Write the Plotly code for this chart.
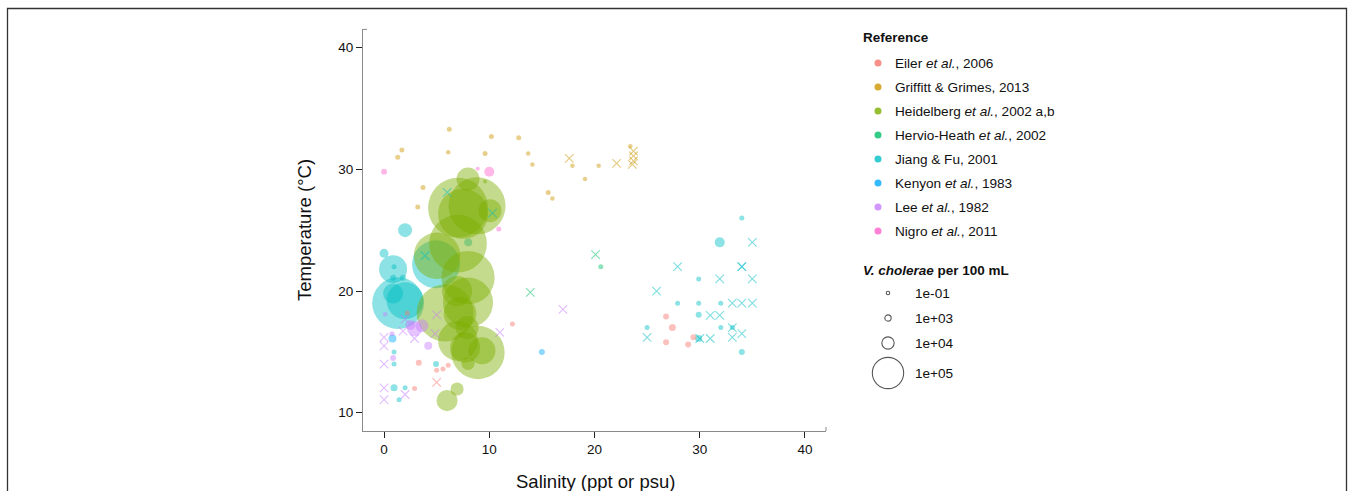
import numpy as np
import plotly.graph_objects as go

# ---------------- data (salinity, temperature, V. cholerae per 100 mL) ----------------
references = ["Eiler <i>et al.</i>, 2006", "Griffitt &amp; Grimes, 2013",
              "Heidelberg <i>et al.</i>, 2002 a,b", "Hervio-Heath <i>et al.</i>, 2002",
              "Jiang &amp; Fu, 2001", "Kenyon <i>et al.</i>, 1983",
              "Lee <i>et al.</i>, 1982", "Nigro <i>et al.</i>, 2011"]
colors = ["#F8766D", "#CD9600", "#7CAE00", "#00BE67", "#00BFC4", "#00A9FF", "#C77CFF", "#FF61CC"]

eiler_sal = [26.8, 27.4, 26.8, 28.9, 29.4, 12.2, 2.2, 3.3, 5.0, 5.6, 6.1, 2.9]
eiler_temp = [17.9, 17.0, 15.8, 15.6, 16.2, 17.3, 18.2, 14.1, 13.5, 13.6, 13.9, 12.0]
eiler_conc = [800, 1600, 800, 800, 800, 300, 300, 800, 300, 300, 300, 300]
eiler_nd_sal = [5.0]
eiler_nd_temp = [12.5]

griffitt_sal = [1.7, 1.3, 6.2, 10.2, 12.8, 6.1, 9.6, 13.7, 14.1, 3.7, 3.2, 17.9, 20.4, 19.1, 15.6, 16.0, 23.4]
griffitt_temp = [31.6, 31.0, 33.3, 32.7, 32.6, 31.4, 31.3, 31.3, 30.4, 28.5, 26.9, 30.3, 30.3, 29.2, 28.1, 27.6, 31.9]
griffitt_conc = [290, 290, 290, 290, 290, 130, 290, 130, 130, 290, 290, 130, 130, 130, 290, 130, 130]
griffitt_nd_sal = [17.6, 22.1, 23.7, 23.7, 23.7, 23.6]
griffitt_nd_temp = [30.9, 30.5, 31.5, 31.1, 30.7, 30.4]

heidelberg_sal = [7.98, 7.03, 8.84, 10.07, 7.51, 7.03, 5.04, 7.98, 6.94, 5.80, 7.98,
                  7.22, 7.03, 8.93, 7.89, 9.31, 7.70, 7.98, 5.99, 6.94, 9.6]
heidelberg_temp = [29.2, 26.85, 27.0, 26.6, 26.35, 23.9, 22.9, 21.1, 20.0, 18.2, 19.05,
                   18.15, 15.9, 14.95, 17.0, 15.1, 15.35, 14.05, 11.0, 11.95, 29.0]
heidelberg_conc = [4.9e4, 4.1e5, 3.7e5, 4.9e4, 2.8e5, 3.8e5, 2.4e5, 3.2e5, 9.1e4, 3.7e5, 2.8e5,
                   1.1e5, 1.7e5, 3.2e5, 4.9e4, 7.1e4, 9.1e4, 1.2e4, 4.0e4, 1.2e4, 30]
heidelberg_nd_sal = []
heidelberg_nd_temp = []

hervio_sal = [20.6]
hervio_temp = [22.0]
hervio_conc = [290]
hervio_nd_sal = [20.1, 13.9]
hervio_nd_temp = [23.0, 19.9]

jiang_sal = [0.86, 1.33, 2.0, 0.86, 4.94, 2.0, 0.0, 0.95, 0.86, 1.8, 0.95, 0.95, 0.95, 2.0, 1.43, 4.94, 8.0,
             34.0, 31.9, 29.9, 27.9, 29.9, 32.0, 29.9, 25.0, 32.0, 33.1, 29.9, 34.0]
jiang_temp = [21.8, 19.0, 19.2, 19.8, 22.2, 25.0, 23.1, 22.0, 21.1, 21.1, 15.0, 14.0, 12.05, 12.05, 11.07, 14.0, 24.0,
              26.0, 24.0, 21.0, 19.0, 19.0, 19.0, 18.05, 17.0, 17.0, 17.0, 16.1, 15.0]
jiang_conc = [7.75e4, 3.0e5, 1.45e5, 3.5e4, 2.55e5, 1.4e4, 3900, 290, 810, 810, 290, 290, 1580, 290, 290, 810, 2600,
              290, 5460, 290, 290, 290, 290, 810, 290, 290, 290, 1580, 810]
jiang_nd_sal = [6.0, 10.3, 3.9, 35.0, 27.9, 34.0, 34.0, 31.9, 35.0, 25.9, 33.1, 34.0, 35.0, 31.0, 31.9,
                25.0, 30.0, 31.0, 33.1, 34.0, 33.1]
jiang_nd_temp = [28.1, 26.4, 22.9, 24.0, 22.0, 22.0, 22.0, 21.0, 21.0, 20.0, 19.0, 19.0, 19.0, 18.0, 18.0,
                 16.2, 16.1, 16.1, 16.2, 16.5, 17.0]

kenyon_sal = [15.0, 0.8]
kenyon_temp = [15.0, 16.1]
kenyon_conc = [810, 2600]
kenyon_nd_sal = []
kenyon_nd_temp = []

lee_sal = [2.9, 3.6, 4.2, 0.76, 0.86, 0.1, 2.5]
lee_temp = [16.9, 17.15, 15.5, 16.5, 14.5, 18.1, 17.2]
lee_conc = [17100, 11650, 2600, 290, 810, 130, 5460]
lee_nd_sal = [0, 0, 0, 0, 0, 2.0, 1.8, 2.9, 5.0, 4.85, 11.0, 2.0, 17.0]
lee_nd_temp = [16.2, 15.5, 14.0, 12.05, 11.07, 17.7, 16.7, 16.1, 18.05, 16.5, 16.6, 11.5, 18.5]

nigro_sal = [0.0, 8.9, 10.0, 10.9]
nigro_temp = [29.8, 30.05, 29.8, 25.1]
nigro_conc = [810, 32, 5460, 290]
nigro_nd_sal = []
nigro_nd_temp = []

size_breaks = [1e-1, 1e3, 1e4, 1e5]
size_labels = ["1e-01", "1e+03", "1e+04", "1e+05"]

x_ticks = [0, 10, 20, 30, 40]
y_ticks = [10, 20, 30, 40]

# ---------------- helpers ----------------
W, H = 1354, 491
FONT = "Liberation Sans, Arial, Helvetica, sans-serif"
ALPHA = 0.45


def size_px(c):
    return 3.5 + 0.088 * np.sqrt(np.asarray(c, dtype=float))


circle_sets = [
    (eiler_sal, eiler_temp, eiler_conc),
    (griffitt_sal, griffitt_temp, griffitt_conc),
    (heidelberg_sal, heidelberg_temp, heidelberg_conc),
    (hervio_sal, hervio_temp, hervio_conc),
    (jiang_sal, jiang_temp, jiang_conc),
    (kenyon_sal, kenyon_temp, kenyon_conc),
    (lee_sal, lee_temp, lee_conc),
    (nigro_sal, nigro_temp, nigro_conc),
]
cross_sets = [
    (eiler_nd_sal, eiler_nd_temp), (griffitt_nd_sal, griffitt_nd_temp),
    (heidelberg_nd_sal, heidelberg_nd_temp), (hervio_nd_sal, hervio_nd_temp),
    (jiang_nd_sal, jiang_nd_temp), (kenyon_nd_sal, kenyon_nd_temp),
    (lee_nd_sal, lee_nd_temp), (nigro_nd_sal, nigro_nd_temp),
]

fig = go.Figure()

draw_order = [4, 0, 1, 2, 3, 5, 6, 7]
for i in draw_order:
    s, t, c = circle_sets[i]
    fig.add_trace(go.Scatter(
        x=s, y=t, mode="markers", showlegend=False, hoverinfo="skip",
        marker=dict(symbol="circle", size=size_px(c), sizemode="diameter",
                    color=colors[i], opacity=ALPHA, line=dict(width=0)),
        xaxis="x", yaxis="y"))

for i in range(8):
    s, t = cross_sets[i]
    if len(s) == 0:
        continue
    fig.add_trace(go.Scatter(
        x=s, y=t, mode="markers", showlegend=False, hoverinfo="skip",
        marker=dict(symbol="x-thin", size=8.5, color=colors[i], opacity=0.5,
                    line=dict(width=1.1, color=colors[i])),
        xaxis="x", yaxis="y"))

# ---------------- manual legend (pixel overlay axes) ----------------
ref_y = [63 + 24 * k for k in range(8)]
fig.add_trace(go.Scatter(
    x=[878] * 8, y=ref_y, mode="markers", showlegend=False, hoverinfo="skip",
    marker=dict(size=7, color=colors, opacity=0.8, line=dict(width=0)),
    xaxis="x2", yaxis="y2"))
size_y = [293, 318, 343, 373]
fig.add_trace(go.Scatter(
    x=[888] * 4, y=size_y, mode="markers", showlegend=False, hoverinfo="skip",
    marker=dict(symbol="circle-open", size=size_px(size_breaks), color="#111",
                line=dict(width=1.1, color="#111")),
    xaxis="x2", yaxis="y2"))

annotations = []
annotations.append(dict(x=861, y=37, xref="x2", yref="y2", text="<b>Reference</b>",
                        showarrow=False, xanchor="left", yanchor="middle",
                        font=dict(size=13.5, color="#111", family=FONT)))
for k, name in enumerate(references):
    annotations.append(dict(x=893, y=ref_y[k], xref="x2", yref="y2", text=name,
                            showarrow=False, xanchor="left", yanchor="middle",
                            font=dict(size=13.6, color="#111", family=FONT)))
annotations.append(dict(x=861, y=270, xref="x2", yref="y2",
                        text="<b><i>V. cholerae</i> per 100 mL</b>",
                        showarrow=False, xanchor="left", yanchor="middle",
                        font=dict(size=13.5, color="#111", family=FONT)))
for k, lab in enumerate(size_labels):
    annotations.append(dict(x=913, y=size_y[k], xref="x2", yref="y2", text=lab,
                            showarrow=False, xanchor="left", yanchor="middle",
                            font=dict(size=13.6, color="#111", family=FONT)))

# axis titles
annotations.append(dict(x=595 / W, y=1 - 481 / H, xref="paper", yref="paper",
                        text="Salinity (ppt or psu)", showarrow=False,
                        xanchor="center", yanchor="middle",
                        font=dict(size=18.5, color="#111", family=FONT)))
annotations.append(dict(x=304 / W, y=1 - 230 / H, xref="paper", yref="paper",
                        text="Temperature (°C)", showarrow=False, textangle=-90,
                        xanchor="center", yanchor="middle",
                        font=dict(size=18.5, color="#111", family=FONT)))

X0, X1, YT, YB = 363, 826, 29.4, 431
shapes = [
    dict(type="rect", xref="paper", yref="paper", x0=7.5 / W, x1=1346.5 / W,
         y0=-0.05, y1=1 - 8.5 / H, line=dict(color="#333", width=1.3), fillcolor="rgba(0,0,0,0)"),
    dict(type="line", xref="paper", yref="paper", x0=X0 / W, x1=(X0 + 4) / W,
         y0=1 - YT / H, y1=1 - YT / H, line=dict(color="#8a8a8a", width=1)),
    dict(type="line", xref="paper", yref="paper", x0=X1 / W, x1=X1 / W,
         y0=1 - YB / H, y1=1 - (YB - 4) / H, line=dict(color="#8a8a8a", width=1)),
]

axis_common = dict(showgrid=False, zeroline=False, showline=True, linecolor="#8a8a8a",
                   linewidth=1, ticks="outside", ticklen=6, tickwidth=1.3, tickcolor="#222",
                   tickfont=dict(size=13.5, color="#111", family=FONT), fixedrange=True)

fig.update_layout(
    width=W, height=H, margin=dict(l=0, r=0, t=0, b=0),
    paper_bgcolor="white", plot_bgcolor="rgba(0,0,0,0)",
    font=dict(family=FONT),
    xaxis=dict(domain=[X0 / W, X1 / W], range=[-2, 42], tickvals=x_ticks, anchor="y", **axis_common),
    yaxis=dict(domain=[1 - YB / H, 1 - YT / H], range=[8.5, 41.5], tickvals=y_ticks, anchor="x", **axis_common),
    xaxis2=dict(domain=[0, 1], range=[0, W], visible=False, anchor="y2", fixedrange=True),
    yaxis2=dict(domain=[0, 1], range=[H, 0], visible=False, anchor="x2", fixedrange=True),
    annotations=annotations, shapes=shapes,
)

fig.write_html("out.html")
